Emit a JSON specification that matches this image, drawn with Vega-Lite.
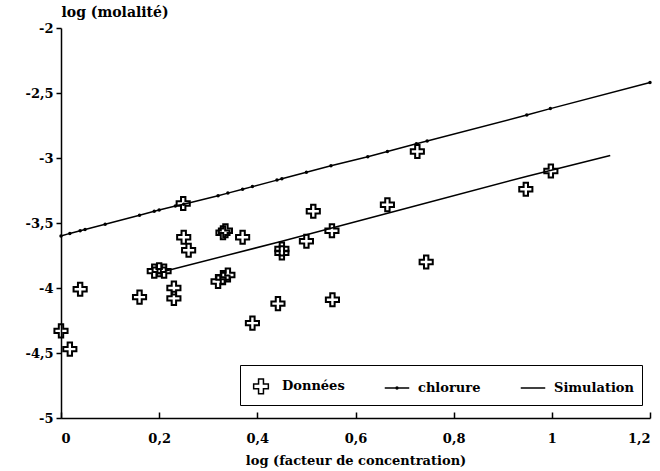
{
  "$schema": "https://vega.github.io/schema/vega-lite/v6.json",
  "width": 589,
  "height": 390,
  "autosize": "none",
  "padding": {"left": 61, "top": 28, "right": 10, "bottom": 53},
  "background": "white",
  "config": {
    "view": {"stroke": null},
    "font": "DejaVu Serif",
    "axis": {"grid": false, "domainColor": "black", "tickColor": "black", "domainWidth": 1.5, "tickWidth": 1.5, "labelColor": "black", "titleColor": "black", "labelFont": "DejaVu Serif", "titleFont": "DejaVu Serif", "labelFontWeight": "bold", "titleFontWeight": "bold", "labelFontSize": 13, "titleFontSize": 13},
    "legend": {"strokeColor": "black"}
  },
  "data": {"values": [
    {"serie": "Données", "x": 0, "y": -4.33}, {"serie": "Données", "x": 0.018, "y": -4.47}, {"serie": "Données", "x": 0.039, "y": -4.01}, {"serie": "Données", "x": 0.16, "y": -4.07},
    {"serie": "Données", "x": 0.19, "y": -3.87}, {"serie": "Données", "x": 0.2, "y": -3.86}, {"serie": "Données", "x": 0.21, "y": -3.87}, {"serie": "Données", "x": 0.23, "y": -4.0},
    {"serie": "Données", "x": 0.23, "y": -4.08}, {"serie": "Données", "x": 0.25, "y": -3.61}, {"serie": "Données", "x": 0.26, "y": -3.71}, {"serie": "Données", "x": 0.249, "y": -3.35},
    {"serie": "Données", "x": 0.33, "y": -3.575}, {"serie": "Données", "x": 0.335, "y": -3.56}, {"serie": "Données", "x": 0.37, "y": -3.61}, {"serie": "Données", "x": 0.32, "y": -3.95},
    {"serie": "Données", "x": 0.33, "y": -3.92}, {"serie": "Données", "x": 0.34, "y": -3.9}, {"serie": "Données", "x": 0.45, "y": -3.7}, {"serie": "Données", "x": 0.45, "y": -3.73},
    {"serie": "Données", "x": 0.5, "y": -3.64}, {"serie": "Données", "x": 0.514, "y": -3.41}, {"serie": "Données", "x": 0.552, "y": -3.56}, {"serie": "Données", "x": 0.442, "y": -4.12},
    {"serie": "Données", "x": 0.39, "y": -4.27}, {"serie": "Données", "x": 0.553, "y": -4.09}, {"serie": "Données", "x": 0.726, "y": -2.95}, {"serie": "Données", "x": 0.665, "y": -3.36},
    {"serie": "Données", "x": 0.744, "y": -3.8}, {"serie": "Données", "x": 0.998, "y": -3.1}, {"serie": "Données", "x": 0.947, "y": -3.24},
    {"serie": "chlorure", "x": 0, "y": -3.6}, {"serie": "chlorure", "x": 0.018, "y": -3.58}, {"serie": "chlorure", "x": 0.039, "y": -3.56}, {"serie": "chlorure", "x": 0.049, "y": -3.55},
    {"serie": "chlorure", "x": 0.09, "y": -3.51}, {"serie": "chlorure", "x": 0.16, "y": -3.44}, {"serie": "chlorure", "x": 0.19, "y": -3.41}, {"serie": "chlorure", "x": 0.2, "y": -3.4},
    {"serie": "chlorure", "x": 0.233, "y": -3.37}, {"serie": "chlorure", "x": 0.25, "y": -3.355}, {"serie": "chlorure", "x": 0.32, "y": -3.29}, {"serie": "chlorure", "x": 0.34, "y": -3.27},
    {"serie": "chlorure", "x": 0.37, "y": -3.24}, {"serie": "chlorure", "x": 0.39, "y": -3.22}, {"serie": "chlorure", "x": 0.44, "y": -3.17}, {"serie": "chlorure", "x": 0.45, "y": -3.16},
    {"serie": "chlorure", "x": 0.5, "y": -3.11}, {"serie": "chlorure", "x": 0.55, "y": -3.06}, {"serie": "chlorure", "x": 0.625, "y": -2.99}, {"serie": "chlorure", "x": 0.665, "y": -2.95},
    {"serie": "chlorure", "x": 0.724, "y": -2.89}, {"serie": "chlorure", "x": 0.746, "y": -2.87}, {"serie": "chlorure", "x": 0.949, "y": -2.67}, {"serie": "chlorure", "x": 0.997, "y": -2.62},
    {"serie": "chlorure", "x": 1.2, "y": -2.42},
    {"serie": "Simulation", "x": 0.213, "y": -3.87}, {"serie": "Simulation", "x": 0.45, "y": -3.64}, {"serie": "Simulation", "x": 0.7, "y": -3.39}, {"serie": "Simulation", "x": 0.95, "y": -3.14}, {"serie": "Simulation", "x": 1.119, "y": -2.98}
  ]},
  "encoding": {
    "x": {"field": "x", "type": "quantitative", "scale": {"domain": [0, 1.2], "nice": false},
      "axis": {"title": "log (facteur de concentration)", "values": [0, 0.2, 0.4, 0.6, 0.8, 1, 1.2], "labelExpr": "replace(toString(datum.value), '.', ',')", "tickSize": -6, "labelPadding": 20, "titlePadding": 9, "labelFlush": true}},
    "y": {"field": "y", "type": "quantitative", "scale": {"domain": [-5, -2], "nice": false},
      "axis": {"title": "log (molalité)", "values": [-5, -4.5, -4, -3.5, -3, -2.5, -2], "labelExpr": "replace(toString(datum.value), '.', ',')", "tickSize": 5, "labelPadding": 3, "titleFontSize": 14, "titleAngle": 0, "titleX": 0, "titleY": -12, "titleAlign": "left", "titleBaseline": "alphabetic"}}
  },
  "layer": [
    {
      "transform": [{"filter": "datum.serie == 'chlorure'"}],
      "mark": {"type": "line", "color": "black", "strokeWidth": 1.5, "point": {"filled": true, "size": 12, "color": "black", "opacity": 1}},
      "encoding": {}
    },
    {
      "transform": [{"filter": "datum.serie == 'Simulation'"}],
      "mark": {"type": "line", "color": "black", "strokeWidth": 1.5},
      "encoding": {}
    },
    {
      "transform": [{"filter": "datum.serie == 'Données'"}],
      "mark": {"type": "point", "filled": false, "color": "black", "opacity": 1, "strokeWidth": 2, "size": 480},
      "encoding": {
        "shape": {"field": "serie", "type": "nominal",
          "scale": {"domain": ["Données", "chlorure", "Simulation"],
            "range": ["M-0.2,-0.6H0.2V-0.2H0.6V0.2H0.2V0.6H-0.2V0.2H-0.6V-0.2H-0.2Z", "M-1,0H1M-0.08,0A0.08,0.08,0,1,1,0.08,0A0.08,0.08,0,1,1,-0.08,0", "M-1,0H1"]},
          "legend": {"title": null, "orient": "none", "direction": "horizontal", "legendX": 179, "legendY": 337,
            "symbolSize": 600, "symbolStrokeWidth": 1.5, "symbolStrokeColor": "black", "symbolOpacity": 1,
            "labelFont": "DejaVu Serif", "labelFontWeight": "bold", "labelFontSize": 13, "labelColor": "black",
            "labelOffset": 8, "columnPadding": 36, "padding": 8, "strokeColor": "black"}}
      }
    }
  ]
}
